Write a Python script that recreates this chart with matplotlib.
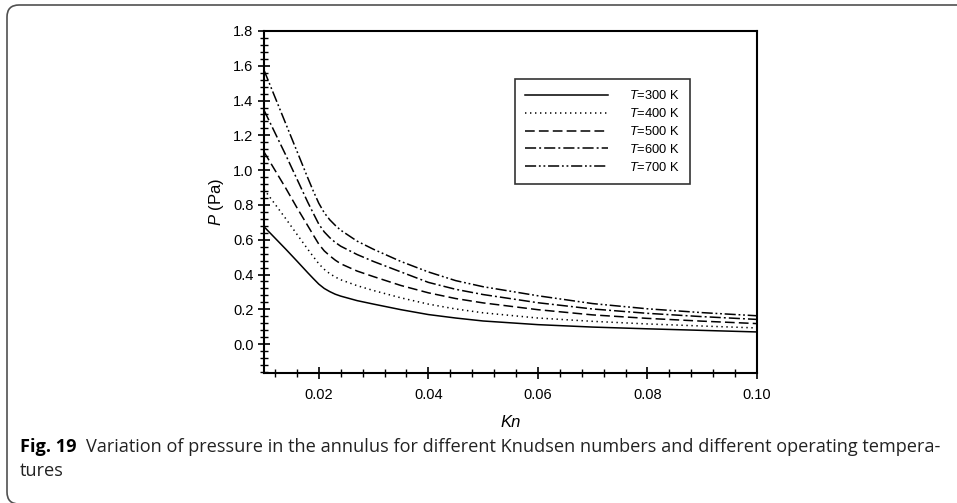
import matplotlib
matplotlib.use("Agg")
import matplotlib.pyplot as plt
from matplotlib.patches import FancyBboxPatch
from matplotlib.ticker import MultipleLocator, FixedLocator

plt.rcParams["font.family"] = ["Liberation Sans", "DejaVu Sans"]
plt.rcParams["lines.scale_dashes"] = False
plt.rcParams["mathtext.fontset"] = "custom"
plt.rcParams["mathtext.it"] = "Liberation Sans:italic"
plt.rcParams["mathtext.rm"] = "Liberation Sans"

# Knudsen numbers
kn = [0.010, 0.012, 0.014, 0.016, 0.018, 0.019, 0.020, 0.021, 0.022, 0.023,
      0.024, 0.027, 0.030, 0.035, 0.040, 0.045, 0.050, 0.060, 0.070, 0.080,
      0.090, 0.100]

# Pressure (Pa) for each operating temperature
p_300 = [0.675, 0.610, 0.545, 0.478, 0.410, 0.377, 0.345, 0.320, 0.302, 0.287,
         0.276, 0.250, 0.230, 0.198, 0.170, 0.150, 0.133, 0.112, 0.098, 0.088,
         0.079, 0.070]
p_400 = [0.890, 0.805, 0.720, 0.632, 0.545, 0.503, 0.462, 0.430, 0.405, 0.386,
         0.370, 0.336, 0.308, 0.266, 0.230, 0.202, 0.180, 0.150, 0.131, 0.116,
         0.104, 0.093]
p_500 = [1.105, 1.000, 0.895, 0.785, 0.680, 0.627, 0.575, 0.536, 0.508, 0.483,
         0.462, 0.420, 0.388, 0.337, 0.295, 0.262, 0.237, 0.198, 0.168, 0.148,
         0.132, 0.118]
p_600 = [1.345, 1.215, 1.085, 0.950, 0.815, 0.752, 0.690, 0.645, 0.612, 0.585,
         0.563, 0.515, 0.475, 0.415, 0.355, 0.315, 0.285, 0.238, 0.202, 0.177,
         0.158, 0.142]
p_700 = [1.575, 1.420, 1.265, 1.110, 0.955, 0.880, 0.810, 0.755, 0.715, 0.683,
         0.655, 0.592, 0.545, 0.475, 0.415, 0.365, 0.330, 0.278, 0.233, 0.203,
         0.181, 0.163]

labels = ["300", "400", "500", "600", "700"]
series = [p_300, p_400, p_500, p_600, p_700]

x_ticks = [0.02, 0.04, 0.06, 0.08, 0.10]
x_tick_labels = ["0.02", "0.04", "0.06", "0.08", "0.10"]
y_ticks = [0.0, 0.2, 0.4, 0.6, 0.8, 1.0, 1.2, 1.4, 1.6, 1.8]

styles = [
    "-",
    (0, (1.0, 2.6)),
    (0, (7.0, 3.0)),
    (0, (8.0, 2.2, 1.4, 2.2)),
    (0, (8.0, 2.0, 1.3, 2.0, 1.3, 2.0)),
]

W, H, DPI = 957, 503, 100
fig = plt.figure(figsize=(W / DPI, H / DPI), dpi=DPI)

# rounded frame around the figure panel
frame = FancyBboxPatch((7 / DPI, -1 / DPI), 12.0, 4.99,
                       boxstyle="round,pad=0,rounding_size=0.12",
                       transform=fig.dpi_scale_trans, fill=False,
                       edgecolor="#505050", linewidth=1.2)
fig.patches.append(frame)

ax = fig.add_axes([264 / W, 1 - 373 / H, (757 - 264) / W, (373 - 31) / H])

for vals, lab, ls in zip(series, labels, styles):
    ax.plot(kn, vals, color="black", linewidth=1.1, linestyle=ls,
            label=r"$\mathit{T}$=" + lab + " K")

ax.set_xlim(0.01, 0.10)
ax.set_ylim(-0.166, 1.8)
ax.xaxis.set_major_locator(FixedLocator(x_ticks))
ax.set_xticklabels(x_tick_labels)
ax.xaxis.set_minor_locator(MultipleLocator(0.004))
ax.yaxis.set_major_locator(FixedLocator(y_ticks))
ax.yaxis.set_major_formatter(plt.FormatStrFormatter("%.1f"))
ax.yaxis.set_minor_locator(MultipleLocator(0.04))

for s in ax.spines.values():
    s.set_linewidth(1.5)

ax.tick_params(axis="both", which="major", direction="inout", length=9,
               width=1.2, labelsize=10.5, colors="black", top=False, right=False)
ax.tick_params(axis="both", which="minor", direction="inout", length=6,
               width=1.0, top=False, right=False)
ax.tick_params(axis="x", which="major", pad=6)
ax.tick_params(axis="y", which="major", pad=3)

ax.set_xlabel("Kn", fontsize=12, style="italic", labelpad=10)
ax.set_ylabel(r"$\mathit{P}$ (Pa)", fontsize=12, labelpad=5)

leg = ax.legend(loc="upper left", bbox_to_anchor=(0.509, 0.86),
                borderaxespad=0, frameon=True, fancybox=False, fontsize=9.3,
                handlelength=6.4, handletextpad=1.6, labelspacing=0.38,
                borderpad=0.8)
leg.get_frame().set_edgecolor("black")
leg.get_frame().set_linewidth(1.2)

# caption
cap_fs = 13.1
t1 = fig.text(20 / W, 1 - 452 / H, "Fig. 19", fontsize=cap_fs, fontweight="bold",
              family="Open Sans", va="baseline", ha="left")
fig.canvas.draw()
bb = t1.get_window_extent()
fig.text((bb.x1 + 9) / W, 1 - 452 / H,
         "Variation of pressure in the annulus for different Knudsen numbers "
         "and different operating tempera-",
         fontsize=cap_fs, family="Open Sans", va="baseline", ha="left",
         color="#222222")
fig.text(20 / W, 1 - 476 / H, "tures", fontsize=cap_fs, family="Open Sans",
         va="baseline", ha="left", color="#222222")

fig.savefig("out.png", dpi=DPI)
